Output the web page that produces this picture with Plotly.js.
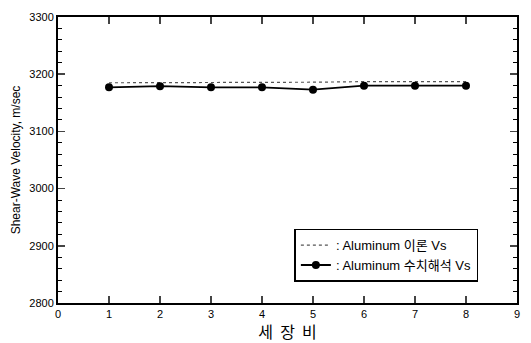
<!DOCTYPE html>
<html><head><meta charset="utf-8">
<script src="https://cdn.plot.ly/plotly-3.0.1.min.js"></script>
<style>body{margin:0;background:#fff}</style>
</head><body><div id="c" style="width:531px;height:343px"></div>
<script>
const ratio = [1,2,3,4,5,6,7,8];
const theoryVs = [3185,3185,3186,3186,3186,3187,3187,3187];
const numericVs = [3177,3179,3177,3177,3173,3180,3180,3180];
const seriesNames = [': Aluminum 이론 Vs', ': Aluminum 수치해석 Vs'];
const xTitle = '세\u00a0\u00a0장\u00a0\u00a0비';
const yTitle = 'Shear-Wave Velocity, m/sec';

const font = 'Arial';
const traces = [
  {x: ratio, y: theoryVs, mode:'lines', name: seriesNames[0],
   line:{color:'#555', width:1.2, dash:'dot'}},
  {x: ratio, y: numericVs, mode:'lines+markers', name: seriesNames[1],
   line:{color:'#000', width:1.8}, marker:{color:'#000', size:8}}
];
const layout = {
  width:531, height:343,
  margin:{l:58, r:14, t:17, b:40},
  paper_bgcolor:'#fff', plot_bgcolor:'#fff',
  font:{family:font, size:11, color:'#000'},
  showlegend:true,
  legend:{x:0.515, y:0.26, xanchor:'left', yanchor:'top',
    bgcolor:'#fff', bordercolor:'#000', borderwidth:1.5,
    font:{family:'Arial, Noto Sans CJK KR', size:13},
    tracegroupgap:0, itemwidth:30},
  xaxis:{range:[0,9], dtick:1, tick0:0, ticks:'inside', ticklen:7, tickwidth:1.5,
    showline:true, linecolor:'#000', linewidth:2, mirror:'ticks',
    showgrid:false, zeroline:false,
    tickfont:{family:font, size:11},
    title:{text:xTitle, font:{family:'Noto Sans CJK KR', size:16}, standoff:4}},
  yaxis:{range:[2800,3300], dtick:100, ticks:'inside', ticklen:7, tickwidth:1.5,
    showline:true, linecolor:'#000', linewidth:2, mirror:'ticks',
    showgrid:false, zeroline:false,
    minor:{dtick:20, ticks:'inside', ticklen:4, tickwidth:1, tickcolor:'#000'},
    tickfont:{family:font, size:11},
    title:{text:yTitle, font:{family:font, size:12}, standoff:6}}
};
Plotly.newPlot('c', traces, layout, {displayModeBar:false, staticPlot:true});
</script></body></html>
